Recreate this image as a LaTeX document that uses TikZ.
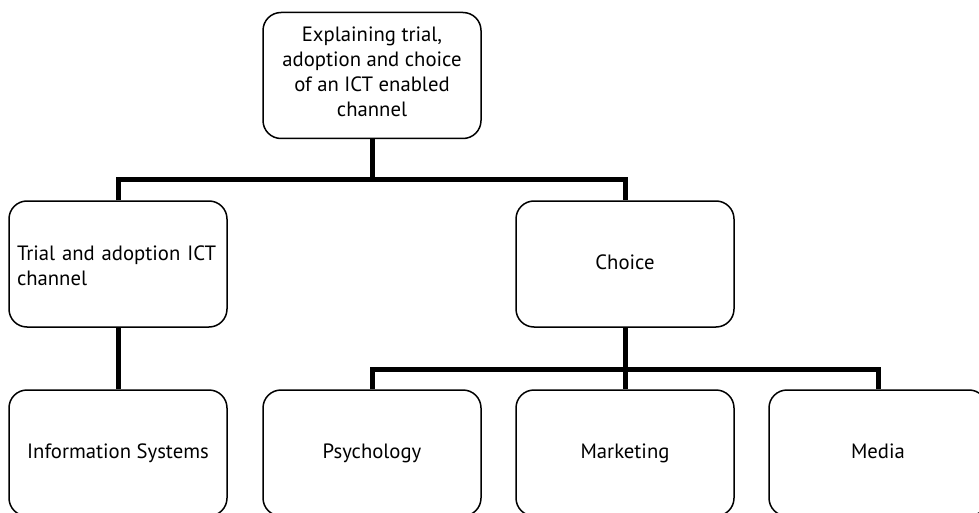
\documentclass[tikz,border=0pt]{standalone}
\usepackage{fontspec}
\setmainfont{PT Sans}
\begin{document}
\begin{tikzpicture}[x=1pt,y=-1pt,
  box/.style={draw=black, line width=1.5pt, rounded corners=18pt,
    minimum width=218pt, minimum height=126pt, inner sep=0pt,
    font=\fontsize{20.7}{25}\selectfont, align=center,
    execute at begin node=\strut},
  conn/.style={line width=5pt, line join=miter, line cap=butt}]
\useasboundingbox (0,0) rectangle (979,513);

% boxes
\node[box] (top) at (372,75.5) {Explaining trial,\\adoption and choice\\of an ICT enabled\\channel};
\node[box, text width=202pt, align=left] (trial) at (118,264) {Trial and adoption ICT\\channel};
\node[box] (choice) at (625,264) {Choice};
\node[box] (info) at (118,453) {Information Systems};
\node[box] (psych) at (372,453) {Psychology};
\node[box] (mark) at (625,453) {Marketing};
\node[box] (media) at (878,453) {Media};

% junctions of the tree
\coordinate (bus1) at (372,180);
\coordinate (bus2) at (625,369.5);

% connectors
\draw[conn] (top.south) -- (bus1);
\draw[conn] (trial.north) |- (bus1) -| (choice.north);
\draw[conn] (trial.south) -- (info.north);
\draw[conn] (choice.south) -- (bus2);
\draw[conn] (psych.north) |- (bus2) -| (media.north);
\draw[conn] (bus2) -- (mark.north);
\end{tikzpicture}
\end{document}
